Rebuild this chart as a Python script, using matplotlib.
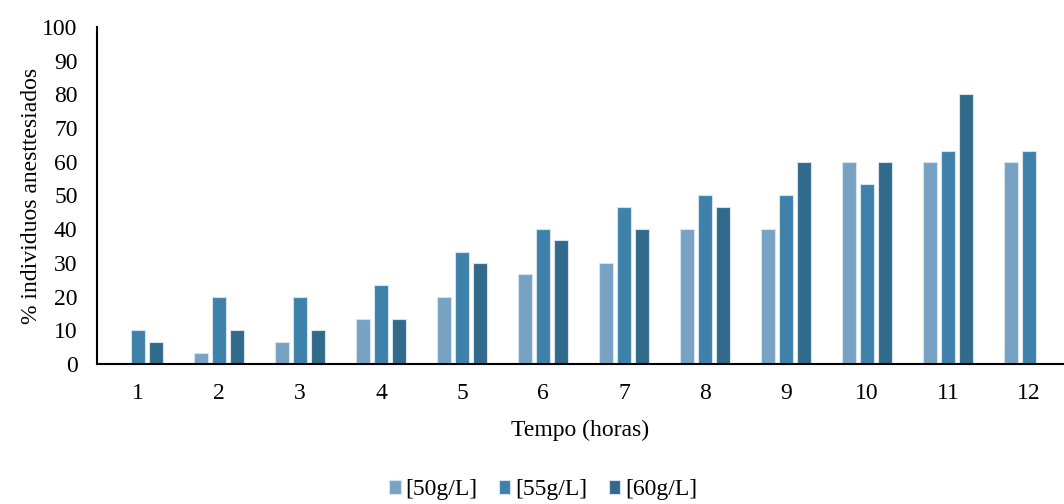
import matplotlib.pyplot as plt
import numpy as np

plt.rcParams['font.family'] = ['Liberation Serif', 'DejaVu Serif']

horas = [1, 2, 3, 4, 5, 6, 7, 8, 9, 10, 11, 12]
series = ['[50g/L]', '[55g/L]', '[60g/L]']
c50 = [0, 3.33, 6.67, 13.33, 20, 26.67, 30, 40, 40, 60, 60, 60]
c55 = [10, 20, 20, 23.33, 33.33, 40, 46.67, 50, 50, 53.33, 63.33, 63.33]
c60 = [6.67, 10, 10, 13.33, 30, 36.67, 40, 46.67, 60, 60, 80, 0]
colors = ['#78a2c3', '#3e82ab', '#316a8b']

fig = plt.figure(figsize=(10.64, 5.04), dpi=100)
ax = fig.add_axes([0.0912, 0.2778, 0.9088, 0.6687])

x = np.array(horas)
w = 0.175
off = 0.22
for i, vals in enumerate([c50, c55, c60]):
    ax.bar(x + (i - 1) * off, vals, width=w, color=colors[i],
           edgecolor='#d6e2ec', linewidth=0.8, label=series[i])

ax.set_xlim(0.494, 12.43)
ax.set_ylim(0, 100)
ax.set_yticks(range(0, 101, 10))
ax.set_xticks(x)
ax.tick_params(axis='both', length=0, labelsize=17)
ax.tick_params(axis='x', pad=14)
ax.tick_params(axis='y', pad=14)
for s in ['top', 'right']:
    ax.spines[s].set_visible(False)
ax.spines['left'].set_linewidth(1.5)
ax.spines['bottom'].set_linewidth(1.5)

ax.set_xlabel('Tempo (horas)', fontsize=17, labelpad=11)
ax.set_ylabel('% individuos anesttesiados', fontsize=17, labelpad=0.5)

fig.legend(loc='center', bbox_to_anchor=(543 / 1064, 1 - 490 / 504), ncol=3,
           frameon=False, fontsize=17, handlelength=0.5, handleheight=0.5,
           handletextpad=0.2, columnspacing=0.9, borderpad=0)

fig.savefig('out.png', dpi=100)
